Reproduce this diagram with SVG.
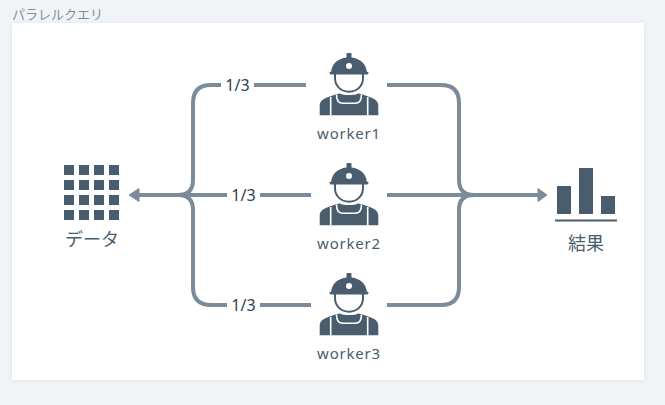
<svg xmlns="http://www.w3.org/2000/svg" width="665" height="405" viewBox="0 0 665 405">
<defs>
<filter id="sh" x="-5%" y="-5%" width="110%" height="110%"><feDropShadow dx="0" dy="1" stdDeviation="2.5" flood-color="#8a99a8" flood-opacity="0.18"/></filter>
<symbol id="worker" viewBox="0 0 60 65" width="60" height="65" overflow="visible">
<path class="ic" d="M28.500 0H31.500A1 1 0 0 1 32.500 1V4.500C41.500 5.500 47.500 11.500 47.800 18.800H48.500C49.500 18.800 50 20 49.300 20.500L48.500 21.500H11.500L10.700 20.500C10 20 10.500 18.800 11.500 18.800H12.200C12.500 11.500 18.500 5.500 27.500 4.500V1A1 1 0 0 1 28.500 0Z"/>
<circle cx="30" cy="13" r="3" fill="#fff"/>
<path d="M16 21V25C16 33 22 38.700 30 38.700S44 33 44 25V21" fill="none" stroke="#4a5d6e" stroke-width="2"/>
<path class="ic" d="M15 42C18 41 20 40.500 21 40.500C24 42.500 36 42.500 39 40.500C40 40.500 42 41 45 42L52 44.500C56.500 46 59.300 49 59.300 52.500V62.300H0.700V52.500C0.700 49 3.500 46 8 44.500Z"/>
<path d="M11.700 44V62.500M48.700 44V62.500M17.500 41.500C17.500 48 19.500 50.300 24 50.300H36C40.500 50.300 42.500 48 42.500 41.500" fill="none" stroke="#fff" stroke-width="1.600"/>
</symbol>
</defs>
<style>
text{font-family:"Noto Sans CJK JP","Noto Sans",sans-serif;fill:#4a5d6e}
.ic{fill:#4a5d6e}
.lb{font-size:18px;text-anchor:middle}
.wl{font-size:15px;text-anchor:middle;font-family:"Noto Sans",sans-serif;letter-spacing:.8px}
.fr{font-size:16px;text-anchor:middle;font-family:"Noto Sans",sans-serif;fill:#2f3f4e}
.ln{fill:none;stroke:#7b8b9a;stroke-width:4}
.cell{fill:#4a5d6e}
</style>
<rect width="665" height="405" fill="#f1f4f7"/>
<text x="12" y="18.500" font-size="13" style="fill:#7f8d9a">パラレルクエリ</text>
<rect x="12" y="23" width="632" height="357" fill="#fff" filter="url(#sh)"/>
<g id="connectors">
<path class="ln" d="M306 85H211Q193 85 193 103V180Q193 195 178 195"/>
<path class="ln" d="M311 195H135"/>
<path class="ln" d="M311 305H211Q193 305 193 287V210Q193 195 178 195"/>
<path class="ln" d="M387 85H441Q459 85 459 103V180Q459 195 474 195"/>
<path class="ln" d="M387 195H540"/>
<path class="ln" d="M387 305H441Q459 305 459 287V210Q459 195 474 195"/>
<path d="M129 195L139 188.500V201.500Z" fill="#7b8b9a" stroke="#7b8b9a" stroke-width="1" stroke-linejoin="round"/>
<path d="M547 195L538 188.500V201.500Z" fill="#7b8b9a" stroke="#7b8b9a" stroke-width="1" stroke-linejoin="round"/>
<rect x="221" y="76" width="33" height="18" fill="#fff"/>
<rect x="227" y="186" width="33" height="18" fill="#fff"/>
<rect x="227" y="296" width="33" height="18" fill="#fff"/>
<text class="fr" x="237.500" y="90.500">1/3</text>
<text class="fr" x="243.500" y="200.500">1/3</text>
<text class="fr" x="243.500" y="310.500">1/3</text>
</g>
<g id="data">
<g class="cell">
<rect x="64" y="165" width="10" height="10"/><rect x="79" y="165" width="10" height="10"/><rect x="94" y="165" width="10" height="10"/><rect x="109" y="165" width="10" height="10"/>
<rect x="64" y="180" width="10" height="10"/><rect x="79" y="180" width="10" height="10"/><rect x="94" y="180" width="10" height="10"/><rect x="109" y="180" width="10" height="10"/>
<rect x="64" y="195" width="10" height="10"/><rect x="79" y="195" width="10" height="10"/><rect x="94" y="195" width="10" height="10"/><rect x="109" y="195" width="10" height="10"/>
<rect x="64" y="210" width="10" height="10"/><rect x="79" y="210" width="10" height="10"/><rect x="94" y="210" width="10" height="10"/><rect x="109" y="210" width="10" height="10"/>
</g>
<text class="lb" x="92" y="246">データ</text>
</g>
<g id="worker1"><use href="#worker" x="319" y="53"/><text class="wl" x="349" y="138.500">worker1</text></g>
<g id="worker2"><use href="#worker" x="319" y="163"/><text class="wl" x="349" y="248.500">worker2</text></g>
<g id="worker3"><use href="#worker" x="319" y="273"/><text class="wl" x="349" y="358.500">worker3</text></g>
<g id="result">
<rect class="ic" x="557" y="186" width="14" height="28"/>
<rect class="ic" x="579" y="168" width="14" height="46"/>
<rect class="ic" x="601" y="196" width="14" height="18"/>
<rect class="ic" x="555" y="219.500" width="62" height="2"/>
<text class="lb" x="586" y="249.500">結果</text>
</g>
</svg>
